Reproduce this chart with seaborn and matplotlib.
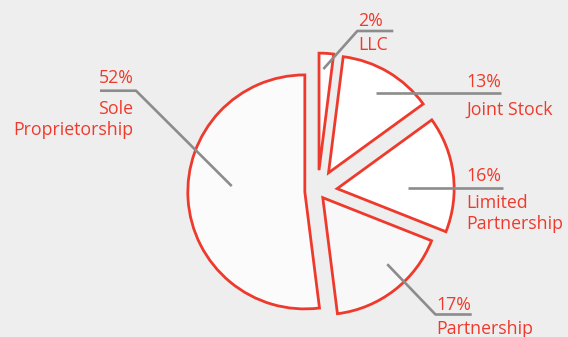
import numpy as np
import matplotlib
matplotlib.use("Agg")
import matplotlib.pyplot as plt
import seaborn as sns

# ---------------- data ----------------
categories = ["Sole\nProprietorship", "Partnership", "Limited\nPartnership", "Joint Stock", "LLC"]
shares = [52, 17, 16, 13, 2]
pct_labels = ["52%", "17%", "16%", "13%", "2%"]

# ---------------- style / layout ----------------
RED = "#ee3a2c"
GREY = "#8c8c8c"
BG = "#eeeeee"
fills = ["#fbfbfb", "#f8f8f8", "#ffffff", "#ffffff", "#fdfdfd"]
explode = [12.9, 8.3, 19.6, 21.3, 21.0]          # offsets in pixel units
pie_center = (317.7, 145.9)
pie_radius = 117

# leader anchor relative to each wedge apex (in radius units)
anchor_rel = [(-0.625, 0.050), (0.551, -0.569), (0.606, 0.003), (0.403, 0.682), (0.037, 0.864)]
# elbow points (None -> horizontal leader) and end x of horizontal run
elbows = [(136, 246.3), (435.5, 22.5), None, None, (357.3, 306)]
end_x = [100, 471.7, 503, 500.7, 393.3]
# text: x, alignment, pct baseline, first name baseline
text_pos = [(133.5, "right", 254.3, 222.5),
            (436.5, "left", 27, 3),
            (466, "left", 156, 128.7),
            (466, "left", 250, 222),
            (358, "left", 311.3, 287)]
LINE_STEP = 20.7
FS = 12.8

sns.set_theme(style="white")
plt.rcParams["font.family"] = ["Open Sans", "DejaVu Sans"]

fig = plt.figure(figsize=(5.68, 3.37), dpi=100, facecolor=BG)
ax = fig.add_axes([0, 0, 1, 1])
ax.set_facecolor(BG)

wedges, _ = ax.pie(shares, startangle=90, counterclock=True, explode=explode,
                   radius=pie_radius, center=pie_center, colors=fills,
                   wedgeprops=dict(edgecolor=RED, linewidth=2.0, joinstyle="miter"))

for w, (fx, fy), elb, ex, (tx, ha, py, ny), pct, name in zip(
        wedges, anchor_rel, elbows, end_x, text_pos, pct_labels, categories):
    cx, cy = w.center
    ax_, ay_ = cx + fx * w.r, cy + fy * w.r
    if elb is None:
        xs, ys = [ax_, ex], [ay_, ay_]
    else:
        xs, ys = [ax_, elb[0], ex], [ay_, elb[1], elb[1]]
    ax.plot(xs, ys, color=GREY, lw=1.9, solid_capstyle="butt", zorder=5)
    ax.text(tx, py, pct, color=RED, fontsize=FS, ha=ha, va="baseline")
    for i, line in enumerate(name.split("\n")):
        ax.text(tx, ny - i * LINE_STEP, line, color=RED, fontsize=FS, ha=ha, va="baseline")

ax.set_xlim(0, 568)
ax.set_ylim(0, 337)
ax.set_aspect("auto")
ax.axis("off")

fig.savefig("out.png", dpi=100, facecolor=BG)
